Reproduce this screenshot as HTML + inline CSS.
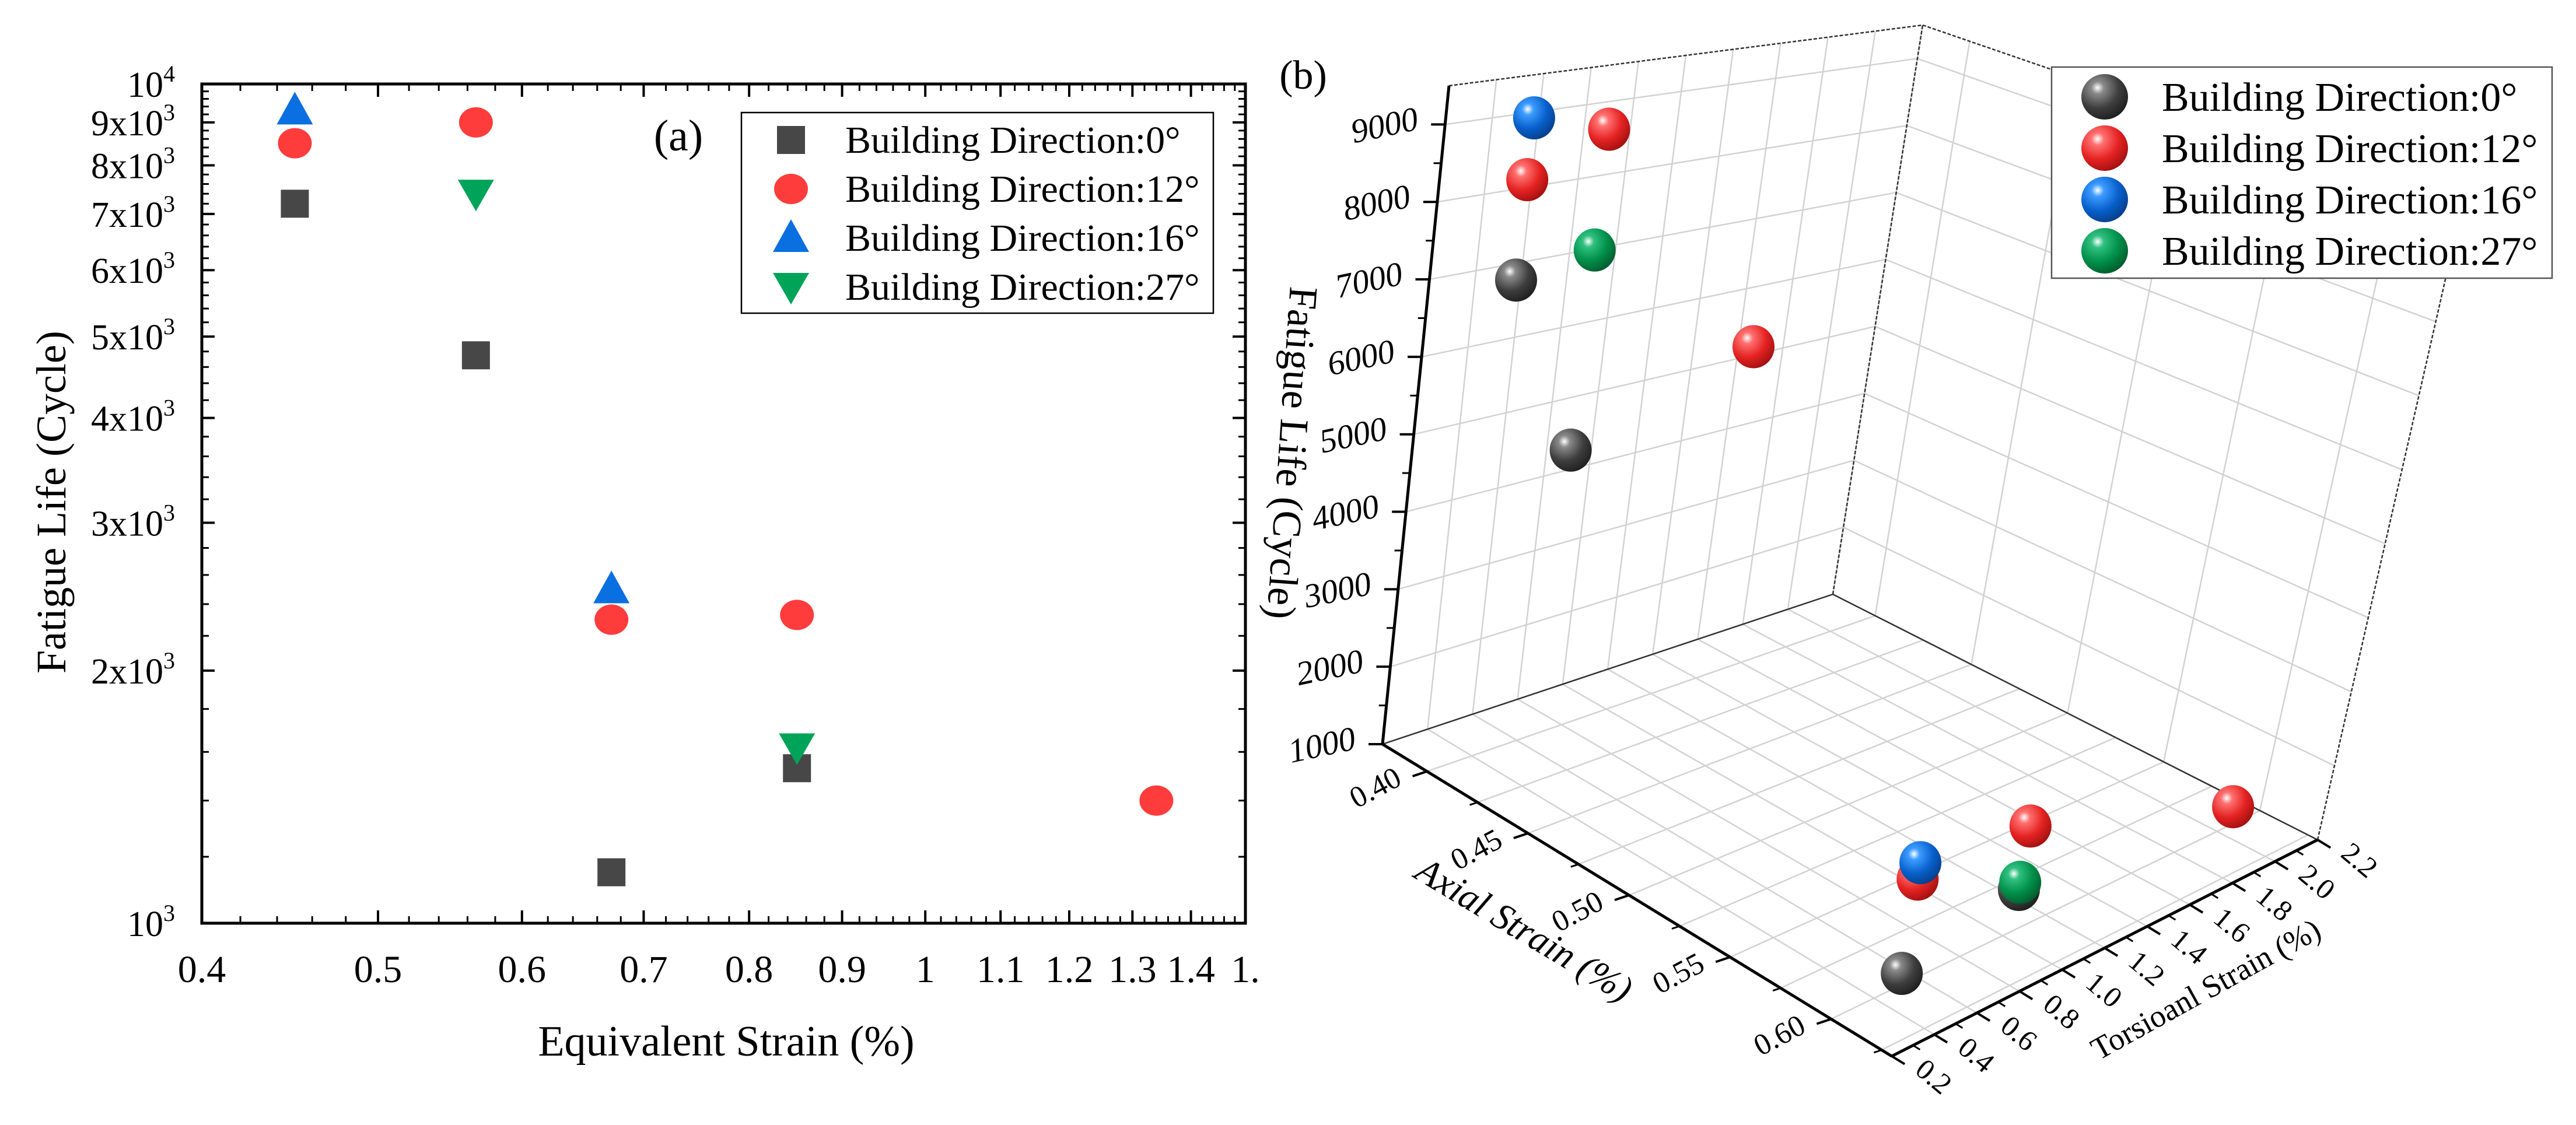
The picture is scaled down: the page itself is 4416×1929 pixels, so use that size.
<!DOCTYPE html>
<html><head><meta charset="utf-8">
<style>
html,body{margin:0;padding:0;background:#fff;}
svg{display:block;font-family:"Liberation Serif","DejaVu Serif",serif;}
</style></head>
<body>
<svg id="fig" width="4416" height="1929" viewBox="0 0 4416 1929" xmlns="http://www.w3.org/2000/svg">
<defs>
<radialGradient id="gk" cx="0.35" cy="0.3" r="0.75"><stop offset="0" stop-color="#ffffff"/><stop offset="0.18" stop-color="#8a8a8a"/><stop offset="0.6" stop-color="#3e3e3e"/><stop offset="1" stop-color="#1e1e1e"/></radialGradient>
<radialGradient id="gr" cx="0.35" cy="0.3" r="0.75"><stop offset="0" stop-color="#ffffff"/><stop offset="0.18" stop-color="#ff7070"/><stop offset="0.6" stop-color="#e52222"/><stop offset="1" stop-color="#a01010"/></radialGradient>
<radialGradient id="gb" cx="0.35" cy="0.3" r="0.75"><stop offset="0" stop-color="#ffffff"/><stop offset="0.18" stop-color="#3c9cff"/><stop offset="0.6" stop-color="#0860cc"/><stop offset="1" stop-color="#053e88"/></radialGradient>
<radialGradient id="gg" cx="0.35" cy="0.3" r="0.75"><stop offset="0" stop-color="#ffffff"/><stop offset="0.18" stop-color="#30c080"/><stop offset="0.6" stop-color="#00904a"/><stop offset="1" stop-color="#005a2c"/></radialGradient>
</defs>
<g id="pa"></g>
<g id="pb"></g>
</svg>
<script>
// ---------- Chart (a) data ----------
const strain0 = [0.45, 0.566, 0.672, 0.85];
const life0 = [7200, 4750, 1150, 1530];
const strain12 = [0.45, 0.566, 0.672, 0.85, 1.34];
const life12 = [8500, 9000, 2300, 2330, 1400];
const strain16 = [0.45, 0.672];
const life16 = [9300, 2500];
const strain27 = [0.566, 0.85];
const life27 = [7400, 1620];
const xTickVals = [0.4,0.5,0.6,0.7,0.8,0.9,1,1.1,1.2,1.3,1.4,1.5];
const xTickLabels = ["0.4","0.5","0.6","0.7","0.8","0.9","1","1.1","1.2","1.3","1.4","1."];
const yTickVals = [1000,2000,3000,4000,5000,6000,7000,8000,9000,10000];
const yTickMant = ["10","2x10","3x10","4x10","5x10","6x10","7x10","8x10","9x10","10"];
const yTickExp = ["3","3","3","3","3","3","3","3","3","4"];
const legendA = ["Building Direction:0°","Building Direction:12°","Building Direction:16°","Building Direction:27°"];

// ---------- Chart (b) data ----------
const axial0 = [0.40, 0.40, 0.60, 0.60];
const tors0 = [0.36, 0.69, 0.52, 1.04];
const lifeB0 = [7200, 4750, 1150, 1530];
const axial12 = [0.40, 0.40, 0.44, 0.60, 0.60, 0.605];
const tors12 = [0.36, 0.69, 1.05, 0.52, 1.04, 2.0];
const lifeB12 = [8500, 9000, 6400, 2300, 2330, 1400];
const axial16 = [0.40, 0.60];
const tors16 = [0.36, 0.52];
const lifeB16 = [9300, 2500];
const axial27 = [0.40, 0.60];
const tors27 = [0.69, 1.04];
const lifeB27 = [7400, 1620];
const zTicks = [1000,2000,3000,4000,5000,6000,7000,8000,9000];
const axialTicks = [0.40,0.45,0.50,0.55,0.60];
const axialTickLabels = ["0.40","0.45","0.50","0.55","0.60"];
const torsTicks = [0.2,0.4,0.6,0.8,1.0,1.2,1.4,1.6,1.8,2.0,2.2];
const torsTickLabels = ["0.2","0.4","0.6","0.8","1.0","1.2","1.4","1.6","1.8","2.0","2.2"];
const legendB = ["Building Direction:0°","Building Direction:12°","Building Direction:16°","Building Direction:27°"];

const NS = "http://www.w3.org/2000/svg";
function mk(tag, attrs, parent){
  const e = document.createElementNS(NS, tag);
  for (const k in attrs) e.setAttribute(k, attrs[k]);
  parent.appendChild(e);
  return e;
}

// ================= Chart (a) =================
const pa = document.getElementById('pa');
const L=346, R=2135, T=144, B=1583;
const XMIN=0.4, XMAX=1.5;
function xs(v){ return L + (Math.log10(v)-Math.log10(XMIN))/(Math.log10(XMAX)-Math.log10(XMIN))*(R-L); }
function ys(v){ return B - (Math.log10(v)-3)*(B-T); }

let frame = mk('rect',{x:L,y:T,width:R-L,height:B-T,fill:'none',stroke:'#000','stroke-width':5},pa);



for (let i=0;i<xTickVals.length;i++){
  const x = xs(xTickVals[i]);
  let t1 = mk('line',{x1:x,y1:B,x2:x,y2:B-22,stroke:'#000','stroke-width':4},pa);
  
  
  mk('line',{x1:x,y1:T,x2:x,y2:T+22,stroke:'#000','stroke-width':4},pa);
  let lb = mk('text',{x:x,y:1684,'font-size':66,'text-anchor':'middle',fill:'#000'},pa);
  lb.textContent = xTickLabels[i];
  
  
}
for (let v=0.42; v<1.5; v+=0.02){
  if (Math.abs(v*10-Math.round(v*10))<1e-6) continue;
  const x = xs(v);
  mk('line',{x1:x,y1:B,x2:x,y2:B-12,stroke:'#000','stroke-width':3},pa);
  mk('line',{x1:x,y1:T,x2:x,y2:T+12,stroke:'#000','stroke-width':3},pa);
}
for (let i=0;i<yTickVals.length;i++){
  const y = ys(yTickVals[i]);
  mk('line',{x1:L,y1:y,x2:L+22,y2:y,stroke:'#000','stroke-width':4},pa);
  mk('line',{x1:R,y1:y,x2:R-22,y2:y,stroke:'#000','stroke-width':4},pa);
  let lb = mk('text',{x:300,y:y+22,'font-size':62,'text-anchor':'end',fill:'#000'},pa);
  
  
  const m = document.createElementNS(NS,'tspan'); m.textContent = yTickMant[i]; lb.appendChild(m);
  const s = document.createElementNS(NS,'tspan'); s.setAttribute('dy','-26'); s.setAttribute('font-size','40'); s.textContent = yTickExp[i]; lb.appendChild(s);
}
for (let v=1200; v<10000; v+=200){
  if (v%1000===0) continue;
  const y = ys(v);
  mk('line',{x1:L,y1:y,x2:L+12,y2:y,stroke:'#000','stroke-width':3},pa);
  mk('line',{x1:R,y1:y,x2:R-12,y2:y,stroke:'#000','stroke-width':3},pa);
}
let xt = mk('text',{x:1245,y:1810,'font-size':74,'text-anchor':'middle',fill:'#000'},pa);
xt.textContent='Equivalent Strain (%)';


let yt = mk('text',{x:0,y:0,'font-size':72,'text-anchor':'middle',fill:'#000',transform:'translate(112,861) rotate(-90)'},pa);
yt.textContent='Fatigue Life (Cycle)';


let la = mk('text',{x:1163,y:258,'font-size':76,'text-anchor':'middle',fill:'#000'},pa);
la.textContent='(a)';



const COL = ['#474747','#ff3c3c','#0a6fe0','#00a459'];
function marker(kind, cx, cy, parent, sz){
  sz = sz || 1;
  if (kind===0) return mk('rect',{x:cx-24*sz,y:cy-24*sz,width:48*sz,height:48*sz,fill:COL[0]},parent);
  if (kind===1) return mk('ellipse',{cx:cx,cy:cy,rx:29*sz,ry:26*sz,fill:COL[1]},parent);
  if (kind===2) return mk('polygon',{points:`${cx},${cy-32*sz} ${cx+31*sz},${cy+24*sz} ${cx-31*sz},${cy+24*sz}`,fill:COL[2]},parent);
  return mk('polygon',{points:`${cx},${cy+30*sz} ${cx+31*sz},${cy-24*sz} ${cx-31*sz},${cy-24*sz}`,fill:COL[3]},parent);
}
const seriesA = [[strain0,life0],[strain12,life12],[strain16,life16],[strain27,life27]];
const sNames = ['bd0','bd12','bd16','bd27'];
for (let s=0;s<4;s++){
  const [xv,yv] = seriesA[s];
  for (let i=0;i<xv.length;i++){
    const m = marker(s, xs(xv[i]), ys(yv[i]), pa);
    
    
  }
}
let lga = mk('g',{},pa);


mk('rect',{x:1271,y:193,width:809,height:344,fill:'#fff',stroke:'#000','stroke-width':2.5},lga);
for (let i=0;i<4;i++){
  const y = 240 + i*84;
  marker(i, 1356, y, lga);
  let t = mk('text',{x:1449,y:y+22,'font-size':66,fill:'#000'},lga);
  t.textContent = legendA[i];
  
  
}

// ================= Chart (b) =================
const pb = document.getElementById('pb');
const AX0=0.378, AX1=0.63, T0=0.2, T1=2.2, Z0=1000, Z1=9500;
const CA=[2370,1276], CB=[3243,1811], CC=[3973,1440], CD=[3142,1019];
const VA=[114,-1129], VB=[205,-1232], VC=[246,-1079], VD=[154,-976];
function bil(p,q,r,s,u,v){
  return [ (1-u)*(1-v)*p[0]+u*(1-v)*q[0]+u*v*r[0]+(1-u)*v*s[0],
           (1-u)*(1-v)*p[1]+u*(1-v)*q[1]+u*v*r[1]+(1-u)*v*s[1] ];
}
function proj(a,t,z){
  const u=(a-AX0)/(AX1-AX0), v=(t-T0)/(T1-T0), w=(z-Z0)/(Z1-Z0);
  const f=bil(CA,CB,CC,CD,u,v), h=bil(VA,VB,VC,VD,u,v);
  return [f[0]+w*h[0], f[1]+w*h[1]];
}
function seg(p,q,attrs,parent){ return mk('line',Object.assign({x1:p[0],y1:p[1],x2:q[0],y2:q[1]},attrs),parent); }
const gridStyle = {stroke:'#d2d2d2','stroke-width':2.5};
let grid = mk('g',{},pb);


for (const t of torsTicks) seg(proj(AX0,t,Z0),proj(AX0,t,Z1),gridStyle,grid);
for (const z of zTicks) seg(proj(AX0,T0,z),proj(AX0,T1,z),gridStyle,grid);
for (const a of axialTicks) seg(proj(a,T1,Z0),proj(a,T1,Z1),gridStyle,grid);
for (const z of zTicks) seg(proj(AX0,T1,z),proj(AX1,T1,z),gridStyle,grid);
for (let a=0.40;a<0.63;a+=0.025) seg(proj(a,T0,Z0),proj(a,T1,Z0),gridStyle,grid);
for (const t of torsTicks) seg(proj(AX0,t,Z0),proj(AX1,t,Z0),gridStyle,grid);
const edge = {stroke:'#333','stroke-width':2.5};
const dash = {stroke:'#333','stroke-width':2.5,'stroke-dasharray':'6,3'};
seg(proj(AX0,T0,Z0),proj(AX0,T1,Z0),edge,pb);
seg(proj(AX0,T1,Z0),proj(AX1,T1,Z0),edge,pb);
seg(proj(AX0,T0,Z1),proj(AX0,T1,Z1),dash,pb);
seg(proj(AX0,T1,Z1),proj(AX1,T1,Z1),dash,pb);
seg(proj(AX0,T1,Z0),proj(AX0,T1,Z1),dash,pb);
seg(proj(AX1,T1,Z0),proj(AX1,T1,Z1),dash,pb);
const ax = {stroke:'#000','stroke-width':5};
let za = seg(proj(AX0,T0,Z0),proj(AX0,T0,Z1),ax,pb);


let aa = seg(proj(AX0,T0,Z0),proj(AX1,T0,Z0),ax,pb);


let ta = seg(proj(AX1,T0,Z0),proj(AX1,T1,Z0),ax,pb);


for (let i=0;i<zTicks.length;i++){
  const p = proj(AX0,T0,zTicks[i]);
  seg(p,[p[0]-24,p[1]],{stroke:'#000','stroke-width':4},pb);
  if (i<zTicks.length-1){ const q=proj(AX0,T0,zTicks[i]+500); seg(q,[q[0]-13,q[1]],{stroke:'#000','stroke-width':3},pb); }
  let t = mk('text',{x:0,y:0,'font-size':58,'font-style':'italic','text-anchor':'middle',fill:'#000',transform:`translate(${p[0]-100},${p[1]+20}) rotate(-12)`},pb);
  t.textContent = String(zTicks[i]);
  
  
}
const dAD=[CD[0]-CA[0],CD[1]-CA[1]], nAD=Math.hypot(dAD[0],dAD[1]);
const outA=[-dAD[0]/nAD,-dAD[1]/nAD];
for (let i=0;i<axialTicks.length;i++){
  const p = proj(axialTicks[i],T0,Z0);
  seg(p,[p[0]+outA[0]*26,p[1]+outA[1]*26],{stroke:'#000','stroke-width':4},pb);
  const q = proj(axialTicks[i]+0.025,T0,Z0);
  seg(q,[q[0]+outA[0]*14,q[1]+outA[1]*14],{stroke:'#000','stroke-width':3},pb);
  let t = mk('text',{x:0,y:0,'font-size':52,'text-anchor':'middle',fill:'#000',transform:`translate(${p[0]+outA[0]*85},${p[1]+outA[1]*85+16}) rotate(-28)`},pb);
  t.textContent = axialTickLabels[i];
  
  
}
const dAB=[CB[0]-CA[0],CB[1]-CA[1]], nAB=Math.hypot(dAB[0],dAB[1]);
const outT=[dAB[0]/nAB,dAB[1]/nAB];
for (let i=0;i<torsTicks.length;i++){
  const p = proj(AX1,torsTicks[i],Z0);
  seg(p,[p[0]+outT[0]*26,p[1]+outT[1]*26],{stroke:'#000','stroke-width':4},pb);
  if (i<torsTicks.length-1){ const q=proj(AX1,torsTicks[i]+0.1,Z0); seg(q,[q[0]+outT[0]*14,q[1]+outT[1]*14],{stroke:'#000','stroke-width':3},pb); }
  let t = mk('text',{x:0,y:0,'font-size':50,'text-anchor':'middle',fill:'#000',transform:`translate(${p[0]+outT[0]*72},${p[1]+outT[1]*72+10}) rotate(40)`},pb);
  t.textContent = torsTickLabels[i];
  
  
}
let at = mk('text',{x:0,y:0,'font-size':64,'font-style':'italic','text-anchor':'middle',fill:'#000',transform:'translate(2602,1612) rotate(31)'},pb);
at.textContent='Axial Strain (%)';


let tt = mk('text',{x:0,y:0,'font-size':54,'text-anchor':'middle',fill:'#000',transform:'translate(3790,1712) rotate(-29)'},pb);
tt.textContent='Torsioanl Strain (%)';


let zt = mk('text',{x:0,y:0,'font-size':70,'text-anchor':'middle',fill:'#000',transform:'translate(2192,775) rotate(94)'},pb);
zt.textContent='Fatigue Life (Cycle)';


let lbb = mk('text',{x:2234,y:152,'font-size':70,'text-anchor':'middle',fill:'#000'},pb);
lbb.textContent='(b)';



const GR = ['url(#gk)','url(#gr)','url(#gb)','url(#gg)'];
const seriesB = [[axial0,tors0,lifeB0],[axial12,tors12,lifeB12],[axial16,tors16,lifeB16],[axial27,tors27,lifeB27]];
const pts = [];
for (let s=0;s<4;s++){
  const [av,tv,zv]=seriesB[s];
  for (let i=0;i<av.length;i++) pts.push({s:s,a:av[i],t:tv[i],z:zv[i]});
}
pts.sort((p,q)=>p.z-q.z);
for (const p of pts){
  const c = proj(p.a,p.t,p.z);
  const e = mk('ellipse',{cx:c[0],cy:c[1],rx:36,ry:37,fill:GR[p.s]},pb);
  
  
}
let lgb = mk('g',{},pb);


mk('rect',{x:3517,y:115,width:858,height:362,fill:'#fff',stroke:'#555','stroke-width':2.5},lgb);
for (let i=0;i<4;i++){
  const y = 166 + i*88;
  mk('ellipse',{cx:3608,cy:y,rx:40,ry:39,fill:GR[i]},lgb);
  let t = mk('text',{x:3706,y:y+24,'font-size':70,fill:'#000'},lgb);
  t.textContent = legendB[i];
  
  
}
</script>
</body></html>
